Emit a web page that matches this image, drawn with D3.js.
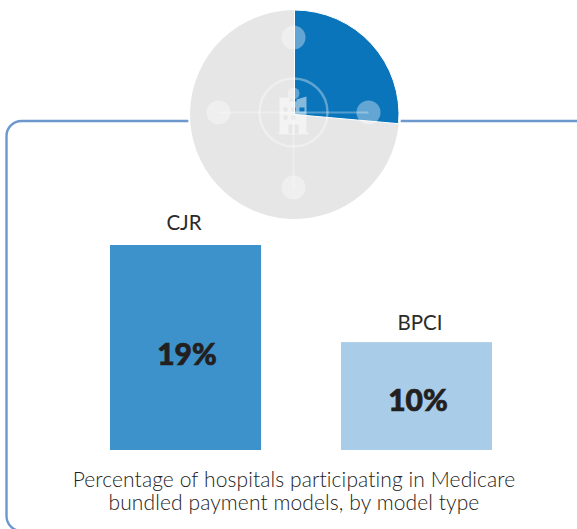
<!DOCTYPE html>
<html>
<head>
<meta charset="utf-8">
<script src="https://cdn.jsdelivr.net/npm/d3@7"></script>
<style>
  html, body { margin: 0; padding: 0; background: #fff; overflow: hidden; }
  svg { display: block; }
  text { font-family: Lato, "Open Sans", sans-serif; }
</style>
</head>
<body>
<svg id="chart" width="577" height="529"></svg>
<script>
let models = ["CJR", "BPCI"];
let modelShares = [19, 10];
let modelColors = ["#3d92cb", "#a9cde8"];
let pieShares = [26.4, 73.6];
let pieColors = ["#0b75bb", "#e6e6e6"];
let captionLines = [
  "Percentage of hospitals participating in Medicare",
  "bundled payment models, by model type"
];

let svg = d3.select("#chart");

// rounded box, runs off the right and bottom edge
svg.append("rect")
  .attr("x", 6.5)
  .attr("y", 121)
  .attr("width", 640)
  .attr("height", 410)
  .attr("rx", 15)
  .attr("fill", "none")
  .attr("stroke", "#6c98cd")
  .attr("stroke-width", 2.4);

// bars
let x = d3.scaleBand()
  .domain(models)
  .range([110, 492])
  .paddingInner(0.346);

let y = d3.scaleLinear()
  .domain([0, 19])
  .range([450, 245]);

let bars = svg.append("g").attr("id", "bars");

bars.selectAll("rect")
  .data(models)
  .join("rect")
    .attr("x", d => x(d))
    .attr("y", (d, i) => y(modelShares[i]))
    .attr("width", x.bandwidth())
    .attr("height", (d, i) => y(0) - y(modelShares[i]))
    .attr("fill", (d, i) => modelColors[i]);

bars.selectAll("text.name")
  .data(models)
  .join("text")
    .attr("class", "name")
    .attr("x", (d, i) => x(d) + x.bandwidth() / 2 + (i == 0 ? -1.5 : 3.5))
    .attr("y", (d, i) => y(modelShares[i]) - (i == 0 ? 15 : 12))
    .attr("text-anchor", "middle")
    .attr("font-size", 20.5)
    .attr("fill", "#2b2b2b")
    .text(d => d);

bars.selectAll("text.value")
  .data(models)
  .join("text")
    .attr("class", "value")
    .attr("x", d => x(d) + x.bandwidth() / 2 + 1.5)
    .attr("y", (d, i) => (y(modelShares[i]) + y(0)) / 2 + (i == 0 ? 17 : 15))
    .attr("text-anchor", "middle")
    .attr("font-size", 30)
    .attr("font-weight", 900)
    .attr("fill", "#231f20")
    .attr("stroke", "#231f20")
    .attr("stroke-width", 0.7)
    .text((d, i) => modelShares[i] + "%");

// caption
svg.append("g").selectAll("text")
  .data(captionLines)
  .join("text")
    .attr("x", 294)
    .attr("y", (d, i) => 487 + i * 23)
    .attr("text-anchor", "middle")
    .attr("font-size", 21)
    .attr("font-weight", 300)
    .attr("letter-spacing", 0.1)
    .attr("fill", "#222")
    .text(d => d);

// pie, white ring cuts the box line
let cx = 294.5, cy = 114.5, r = 104.5;
let pie = svg.append("g").attr("transform", `translate(${cx},${cy})`);

pie.append("circle").attr("r", r + 2).attr("fill", "#fff");

let slices = d3.pie().sort(null)(pieShares);
let arc = d3.arc().innerRadius(0).outerRadius(r);

// grey first so the blue slice and its white edge stay on top
pie.selectAll("path")
  .data(slices.slice().reverse())
  .join("path")
    .attr("d", arc)
    .attr("fill", d => pieColors[d.index])
    .attr("stroke", d => d.index == 0 ? "#fff" : "none")
    .attr("stroke-width", 1);

// network icon on top of the pie
let icon = svg.append("g")
  .attr("transform", `translate(${cx - 1},${cy - 2})`)
  .attr("fill", "#fff")
  .attr("fill-opacity", 0.36);

let nodes = [[0, -75], [-75, 0], [0, 75], [75, 0]];

// no spoke up to the top node
icon.selectAll("line")
  .data(nodes.slice(1))
  .join("line")
    .attr("x1", 0)
    .attr("y1", 0)
    .attr("x2", d => d[0])
    .attr("y2", d => d[1])
    .attr("stroke", "#fff")
    .attr("stroke-opacity", 0.3)
    .attr("stroke-width", 2);

icon.selectAll("circle.node")
  .data(nodes)
  .join("circle")
    .attr("class", "node")
    .attr("cx", d => d[0])
    .attr("cy", d => d[1])
    .attr("r", 12);

icon.append("circle")
  .attr("r", 34)
  .attr("fill", "none")
  .attr("stroke", "#fff")
  .attr("stroke-opacity", 0.35)
  .attr("stroke-width", 2.4);

// building
icon.append("path")
  .attr("fill-rule", "evenodd")
  .attr("fill-opacity", 0.5)
  .attr("d", "M-14,-15 L-4,-15 L-4,-11 L3,-11 L3,-13 L13,-16 L13,20 L15,20 L15,22 L-15,22 L-15,20 L-14,20 Z"
    + " M-10,-5 h4 v4 h-4 Z M-2,-5 h4 v4 h-4 Z M6,-5 h5 v4 h-5 Z"
    + " M-10,3 h4 v4 h-4 Z M-2,3 h4 v4 h-4 Z"
    + " M-5,12 h4 v9 h-4 Z M1,12 h4 v9 h-4 Z");
icon.append("circle").attr("cy", -19).attr("r", 6);
</script>
</body>
</html>
